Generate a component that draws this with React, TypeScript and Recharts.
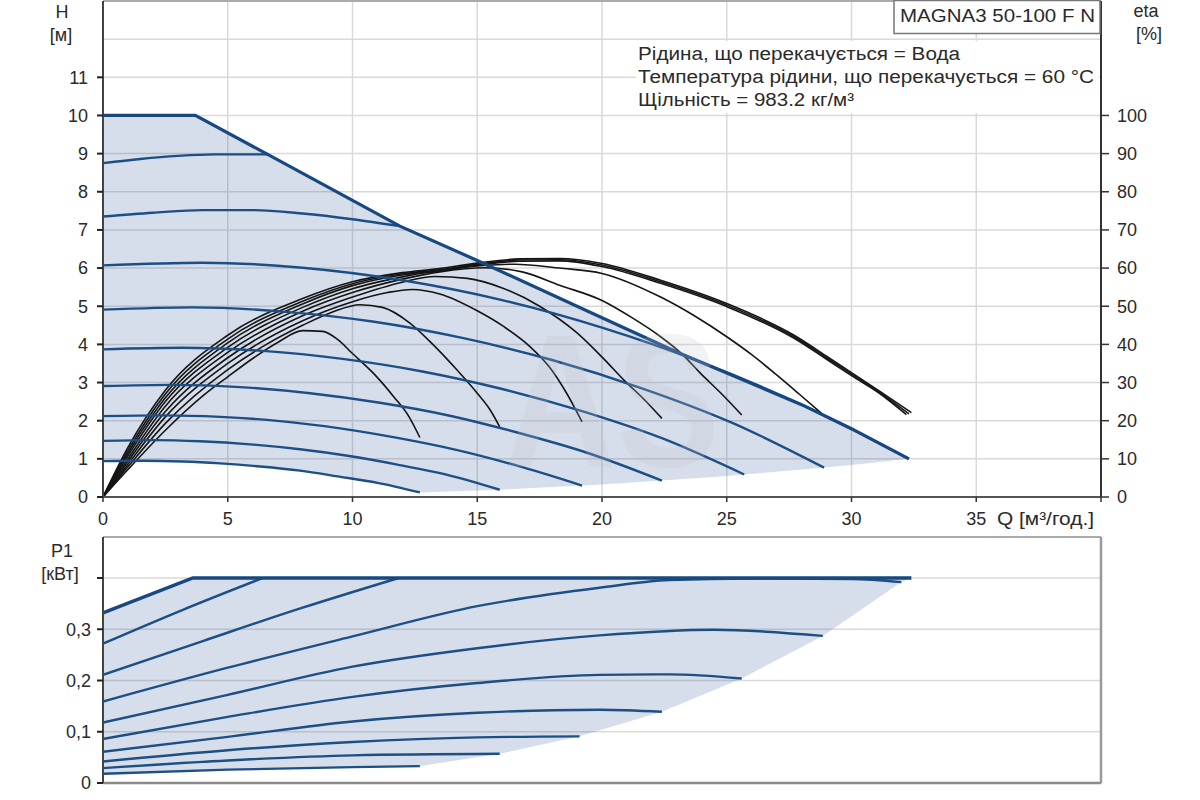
import React from 'react';
import { ComposedChart, Line, Area, XAxis, YAxis, CartesianGrid, ReferenceLine } from 'recharts';

const FONT = "'Liberation Sans', Arial, Helvetica, sans-serif";
const BLUE = '#1d4f87';
const BLUE_DARK = '#174880';
const FILL = '#2b5c94';
const GRID = '#d9d9d9';

type Pt = [number, number];

// ---- axis ticks ----
const Q_TICKS = [0, 5, 10, 15, 20, 25, 30, 35, 40];
const H_TICKS = [0, 1, 2, 3, 4, 5, 6, 7, 8, 9, 10, 11];
const ETA_TICKS = [0, 10, 20, 30, 40, 50, 60, 70, 80, 90, 100];
const P_TICKS = [0, 0.1, 0.2, 0.3, 0.4];
const P_TICK_LABELS = ['0', '0,1', '0,2', '0,3', ''];

// ---- H(Q) speed curves [Q m3/h, H m] ----
const hG: Pt[] = [[0, 0.94], [1.6, 0.95], [3.2, 0.93], [4.7, 0.88], [6.3, 0.8], [7.9, 0.69], [9.4, 0.54], [11.0, 0.37], [12.7, 0.12]];
const hF: Pt[] = [[0, 1.47], [2.0, 1.49], [3.9, 1.46], [5.9, 1.38], [7.9, 1.25], [9.8, 1.08], [11.8, 0.85], [13.8, 0.58], [15.9, 0.19]];
const hE: Pt[] = [[0, 2.12], [2.4, 2.14], [4.7, 2.1], [7.1, 1.99], [9.5, 1.8], [11.8, 1.55], [14.2, 1.23], [16.5, 0.84], [19.2, 0.3]];
const hD: Pt[] = [[0, 2.91], [2.8, 2.94], [5.5, 2.88], [8.3, 2.72], [11.1, 2.47], [13.9, 2.13], [16.6, 1.69], [19.4, 1.16], [22.4, 0.43]];
const hC: Pt[] = [[0, 3.87], [3.2, 3.91], [6.4, 3.83], [9.6, 3.62], [12.8, 3.29], [16.0, 2.83], [19.2, 2.25], [22.4, 1.54], [25.7, 0.59]];
const hB: Pt[] = [[0, 4.91], [3.6, 4.97], [7.2, 4.86], [10.8, 4.6], [14.4, 4.17], [18.0, 3.59], [21.6, 2.85], [25.2, 1.95], [28.9, 0.77]];
const hA: Pt[] = [[0, 6.07], [4, 6.14], [8, 6.01], [12, 5.68], [16, 5.16], [20, 4.44], [24, 3.53], [28, 2.42], [32.3, 1.0]];
const hH: Pt[] = [[0, 7.35], [2, 7.45], [4, 7.52], [6, 7.52], [8, 7.43], [10, 7.28], [11.9, 7.1]];
const hI: Pt[] = [[0, 8.75], [1.5, 8.86], [3, 8.94], [4.5, 8.98], [6.6, 8.98]];
const hMax: Pt[] = [[0, 10], [3.7, 10], [6.6, 8.98], [11.9, 7.1], [15, 6.2], [20, 4.7], [23, 3.8], [25, 3.25], [28, 2.42], [30, 1.79], [32.3, 1.0]];

// operating area [Q, H low, H high]
const TOP_BAND: [number, number, number][] = [
  [0, 0.94, 10], [1.6, 0.95, 10], [3.2, 0.93, 10], [3.7, 0.92, 10], [4.7, 0.88, 9.65], [6.3, 0.8, 9.09],
  [6.6, 0.78, 8.98], [7.9, 0.69, 8.52], [9.4, 0.54, 7.99], [11.0, 0.37, 7.42], [11.9, 0.26, 7.1],
  [12.7, 0.12, 6.87], [15, 0.17, 6.2], [15.9, 0.19, 5.93], [19.2, 0.3, 4.94], [20, 0.33, 4.7],
  [22.4, 0.43, 3.98], [23, 0.46, 3.8], [25, 0.55, 3.25], [25.7, 0.59, 3.06], [28, 0.72, 2.42],
  [28.9, 0.77, 2.14], [30, 0.84, 1.79], [32.3, 1.0, 1.0],
];

// ---- eta(Q) curves [Q, %] ----
const eA1: Pt[] = [[0, 0], [1, 13], [2.5, 28], [5, 42.4], [8, 52], [10, 56.4], [12, 58.8], [13.4, 59.8], [15, 61.3], [16.7, 62.4], [18.3, 62.5], [20, 61.2], [22.35, 56.8], [25, 50.7], [27.7, 42.4], [29, 36.9], [30, 32.6], [31.2, 27.4], [32.4, 22.1]];
const eA2: Pt[] = [[0, 0], [1, 12.2], [2.5, 27], [5, 41.4], [8, 51.3], [10, 55.9], [12, 58.5], [13.4, 59.5], [15, 61], [16.7, 62.1], [18.3, 62.2], [20, 60.8], [22.35, 56.4], [25, 50.3], [27.7, 42], [29, 36.5], [30, 32.2], [31.2, 27.1], [32.3, 21.8]];
const eA3: Pt[] = [[0, 0], [1, 11.5], [2.5, 26], [5, 40.4], [8, 50.6], [10, 55.4], [12, 58.2], [13.4, 59.2], [15, 60.7], [16.7, 61.8], [18.3, 61.9], [20, 60.4], [22.35, 56], [25, 49.9], [27.7, 41.6], [29, 36.1], [30, 31.8], [31.2, 26.8], [32.2, 21.6]];
const eB: Pt[] = [[0, 0], [1, 10.8], [2.5, 25], [5, 39.2], [8, 49.7], [10, 54.6], [12, 57.7], [14, 59.9], [16.5, 61], [18.3, 60], [20, 58.6], [22.35, 52.4], [23.7, 47.5], [25, 42], [26, 37.3], [27, 32], [27.9, 27], [28.8, 21.9]];
const eC: Pt[] = [[0, 0], [1, 10], [2.5, 23.8], [5, 37.9], [8, 48.7], [10, 53.6], [12, 57.1], [13.5, 59], [15.3, 60.1], [16.8, 59], [18.3, 55.5], [20, 51.5], [21.2, 47], [22.35, 42], [23.2, 37.5], [23.95, 32.4], [24.8, 27], [25.6, 21.5]];
const eD: Pt[] = [[0, 0], [1, 9.3], [2.5, 22.4], [5, 36.5], [8, 47.5], [10, 52.4], [12, 56.3], [13.3, 57.8], [14.6, 57.3], [16, 54.8], [17.5, 50], [19, 43], [20.1, 36], [20.9, 30.5], [21.7, 25.5], [22.4, 20.6]];
const eE: Pt[] = [[0, 0], [1, 8.6], [2.5, 21], [5, 35], [8, 46.2], [10, 51.2], [11.4, 53.6], [12.4, 54.4], [13.5, 53.2], [15, 48.8], [16.1, 44.5], [17.1, 39.5], [17.9, 34], [18.6, 27], [19.2, 19.7]];
const eF: Pt[] = [[0, 0], [1, 7.9], [2.5, 19.3], [5, 33.4], [6.5, 39.8], [8, 45], [9.2, 48.5], [10.3, 50.4], [11.2, 49.7], [12.3, 45.6], [13.25, 39.8], [14.2, 33.2], [15, 27.2], [15.5, 23], [15.9, 18.4]];
const eG: Pt[] = [[0, 0], [1, 7.2], [2.5, 17.5], [4, 26.5], [5, 31.5], [6, 36.3], [7, 40.5], [8, 43.6], [8.8, 43.4], [9.4, 41.3], [10, 37.6], [10.9, 32], [11.65, 26.3], [12.25, 21.2], [12.7, 15.6]];

// ---- P1(Q) curves [Q, kW] ----
const pG: Pt[] = [[0, 0.018], [5, 0.026], [10, 0.031], [12.7, 0.033]];
const pF: Pt[] = [[0, 0.029], [5, 0.044], [10, 0.054], [15.9, 0.057]];
const pE: Pt[] = [[0, 0.042], [5, 0.064], [10, 0.08], [15, 0.089], [19.1, 0.091]];
const pD: Pt[] = [[0, 0.061], [5, 0.09], [10, 0.12], [15, 0.137], [19.9, 0.143], [22.4, 0.139]];
const pC: Pt[] = [[0, 0.086], [5, 0.129], [10, 0.168], [15, 0.195], [19.9, 0.211], [22.7, 0.212], [25.6, 0.204]];
const pB: Pt[] = [[0, 0.118], [5, 0.172], [10, 0.227], [15, 0.263], [19.9, 0.288], [24.5, 0.299], [28.85, 0.287]];
const pA: Pt[] = [[0, 0.159], [5, 0.225], [10, 0.286], [15, 0.345], [19.9, 0.381], [22.7, 0.396], [26, 0.399], [30, 0.398], [32, 0.392]];
const pH: Pt[] = [[0, 0.211], [4, 0.277], [8, 0.342], [11.85, 0.4]];
const pI: Pt[] = [[0, 0.272], [3.2, 0.338], [6.4, 0.4]];
const pMax: Pt[] = [[0, 0.332], [3.6, 0.4], [32.4, 0.4]];

const BOTTOM_BAND: [number, number, number][] = [
  [0, 0.018, 0.332], [3.6, 0.024, 0.4], [5, 0.026, 0.4], [10, 0.031, 0.4], [12.7, 0.033, 0.4],
  [15.9, 0.057, 0.4], [19.1, 0.091, 0.4], [22.4, 0.139, 0.4], [25.6, 0.204, 0.4],
  [28.85, 0.287, 0.4], [32, 0.392, 0.4], [32.4, 0.4, 0.4],
];

const TOP_SPEED = [hG, hF, hE, hD, hC, hB, hA, hH, hI];
const TOP_ETA = [eG, eF, eE, eD, eC, eB, eA3, eA2, eA1];
const BOTTOM_POWER = [pG, pF, pE, pD, pC, pB, pA, pH, pI];

const toData = (pts: Pt[]) => pts.map(([q, v]) => ({ q, v }));
const tickStyle = { fontSize: 18, fill: '#2a2a2a', fontFamily: FONT };

function TopChart() {
  const band = TOP_BAND.map(([q, lo, hi]) => ({ q, band: [lo, hi] }));
  return (
    <ComposedChart width={1200} height={540} data={band} margin={{ top: 1, right: 39, bottom: 13, left: 43 }}>
      <CartesianGrid yAxisId="h" stroke={GRID} strokeWidth={1.5} />
      <XAxis
        dataKey="q"
        type="number"
        domain={[0, 40]}
        ticks={Q_TICKS}
        allowDataOverflow
        height={30}
        tickSize={5}
        tickMargin={10}
        tick={tickStyle}
        tickFormatter={(v: number) => (v === 40 ? '' : String(v))}
        axisLine={{ stroke: '#555', strokeWidth: 2 }}
        tickLine={{ stroke: '#333', strokeWidth: 1.5 }}
      />
      <YAxis
        yAxisId="h"
        type="number"
        domain={[0, 13]}
        ticks={H_TICKS}
        allowDataOverflow
        width={60}
        tickSize={6}
        tickMargin={9}
        tick={tickStyle}
        axisLine={{ stroke: '#444', strokeWidth: 2 }}
        tickLine={{ stroke: '#222', strokeWidth: 2 }}
      />
      <YAxis
        yAxisId="eta"
        orientation="right"
        type="number"
        domain={[0, 130]}
        ticks={ETA_TICKS}
        allowDataOverflow
        width={60}
        tickSize={8}
        tickMargin={8}
        tick={tickStyle}
        axisLine={{ stroke: '#333', strokeWidth: 2 }}
        tickLine={{ stroke: '#333', strokeWidth: 1.5 }}
      />
      <ReferenceLine yAxisId="h" y={12} stroke={GRID} strokeWidth={1.5} />
      <ReferenceLine yAxisId="h" y={13} stroke="#aaa" strokeWidth={2} />
      <Area
        yAxisId="h"
        dataKey="band"
        type="linear"
        stroke="none"
        fill={FILL}
        fillOpacity={0.2}
        isAnimationActive={false}
        activeDot={false}
      />
      {TOP_ETA.map((pts, i) => (
        <Line
          key={'eta' + i}
          yAxisId="eta"
          data={toData(pts)}
          dataKey="v"
          type="monotone"
          stroke="#151515"
          strokeWidth={1.6}
          dot={false}
          activeDot={false}
          isAnimationActive={false}
        />
      ))}
      {TOP_SPEED.map((pts, i) => (
        <Line
          key={'h' + i}
          yAxisId="h"
          data={toData(pts)}
          dataKey="v"
          type="monotone"
          stroke={BLUE}
          strokeWidth={2.4}
          dot={false}
          activeDot={false}
          isAnimationActive={false}
        />
      ))}
      <Line
        yAxisId="h"
        data={toData(hMax)}
        dataKey="v"
        type="linear"
        stroke={BLUE_DARK}
        strokeWidth={3.2}
        dot={false}
        activeDot={false}
        isAnimationActive={false}
      />
    </ComposedChart>
  );
}

function BottomChart() {
  const band = BOTTOM_BAND.map(([q, lo, hi]) => ({ q, band: [lo, hi] }));
  return (
    <ComposedChart width={1200} height={270} data={band} margin={{ top: 7, right: 99, bottom: 7, left: 43 }}>
      <CartesianGrid stroke={GRID} strokeWidth={1.5} />
      <XAxis
        dataKey="q"
        type="number"
        domain={[0, 40]}
        ticks={Q_TICKS}
        allowDataOverflow
        height={10}
        tick={false}
        tickLine={false}
        axisLine={{ stroke: '#8a8a8a', strokeWidth: 2.5 }}
      />
      <YAxis
        type="number"
        domain={[0, 0.48]}
        ticks={P_TICKS}
        allowDataOverflow
        width={60}
        tickSize={6}
        tickMargin={6}
        tick={tickStyle}
        tickFormatter={(_v: number, i: number) => P_TICK_LABELS[i]}
        axisLine={{ stroke: '#444', strokeWidth: 2 }}
        tickLine={{ stroke: '#222', strokeWidth: 2 }}
      />
      <ReferenceLine y={0.48} stroke="#aaa" strokeWidth={2} />
      <ReferenceLine x={40} stroke="#999" strokeWidth={2.5} />
      <Area
        dataKey="band"
        type="linear"
        stroke="none"
        fill={FILL}
        fillOpacity={0.2}
        isAnimationActive={false}
        activeDot={false}
      />
      {BOTTOM_POWER.map((pts, i) => (
        <Line
          key={'p' + i}
          data={toData(pts)}
          dataKey="v"
          type="monotone"
          stroke={BLUE}
          strokeWidth={2.4}
          dot={false}
          activeDot={false}
          isAnimationActive={false}
        />
      ))}
      <Line
        data={toData(pMax)}
        dataKey="v"
        type="linear"
        stroke={BLUE_DARK}
        strokeWidth={3.4}
        dot={false}
        activeDot={false}
        isAnimationActive={false}
      />
    </ComposedChart>
  );
}

export default function App() {
  const txt = { fontFamily: FONT, fontSize: 18, fill: '#2a2a2a' } as const;
  return (
    <div style={{ position: 'absolute', left: 0, top: 0, width: 1200, height: 800, background: '#fff', overflow: 'hidden' }}>
      <div style={{ position: 'absolute', left: 0, top: 0 }}>
        <TopChart />
      </div>
      <div style={{ position: 'absolute', left: 0, top: 530 }}>
        <BottomChart />
      </div>
      <svg width={1200} height={800} style={{ position: 'absolute', left: 0, top: 0, pointerEvents: 'none' }}>
        <text x={612} y={466} textAnchor="middle" textLength={215} lengthAdjust="spacingAndGlyphs"
          style={{ fontFamily: FONT, fontSize: 190, fontWeight: 700, fill: '#c4c7cc', opacity: 0.22 }}>AS</text>
        <text x={62} y={18} textAnchor="middle" style={txt}>H</text>
        <text x={61} y={41} textAnchor="middle" style={txt}>[м]</text>
        <text x={1146} y={17} textAnchor="middle" style={txt}>eta</text>
        <text x={1149} y={40} textAnchor="middle" style={txt}>[%]</text>
        <text x={62} y={557} textAnchor="middle" style={txt}>P1</text>
        <text x={60} y={580} textAnchor="middle" style={txt}>[кВт]</text>
        <text x={997} y={525} textLength={97} lengthAdjust="spacingAndGlyphs" style={txt}>Q [м³/год.]</text>
        <rect x={894} y={0.5} width={206} height={33} fill="#fff" stroke="#777" strokeWidth={1.5} />
        <text x={900} y={22} textLength={195} lengthAdjust="spacingAndGlyphs" style={txt}>MAGNA3 50-100 F N</text>
        <rect x={636} y={41} width={463} height={72} fill="#fff" />
        <text x={638} y={60} textLength={322} lengthAdjust="spacingAndGlyphs" style={txt}>Рідина, що перекачується = Вода</text>
        <text x={638} y={83} textLength={456} lengthAdjust="spacingAndGlyphs" style={txt}>Температура рідини, що перекачується = 60 °C</text>
        <text x={638} y={106} textLength={216} lengthAdjust="spacingAndGlyphs" style={txt}>Щільність = 983.2 кг/м³</text>
      </svg>
    </div>
  );
}
